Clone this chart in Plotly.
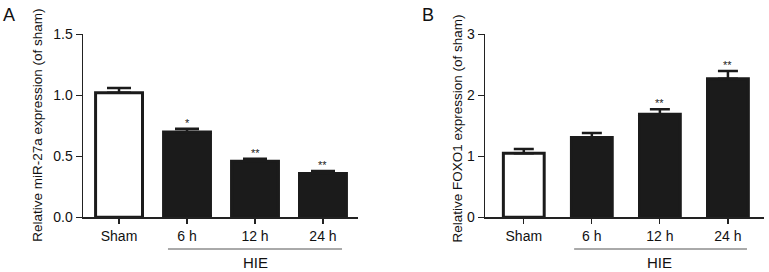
import plotly.graph_objects as go

categories = ["Sham", "6 h", "12 h", "24 h"]
mir27a_values = [1.02, 0.70, 0.46, 0.36]
mir27a_errors = [0.04, 0.025, 0.02, 0.02]
mir27a_stars = ["", "*", "**", "**"]
foxo1_values = [1.05, 1.31, 1.69, 2.27]
foxo1_errors = [0.07, 0.07, 0.08, 0.13]
foxo1_stars = ["", "", "**", "**"]
group_label = "HIE"
ytitle_a = "Relative miR-27a expression (of sham)"
ytitle_b = "Relative FOXO1 expression (of sham)"

W, H = 769, 272
FONT = "Liberation Sans, Arial, Helvetica, sans-serif"
DARK = "#1b1b1b"
TXT = "#111111"

def px_x(p):
    return p / W

def px_y(p):
    return 1 - p / H

fig = go.Figure()

fill_colors = ["white", DARK, DARK, DARK]

fig.add_trace(go.Bar(
    x=list(range(len(categories))), y=mir27a_values, width=0.69,
    marker=dict(color=fill_colors, line=dict(color=DARK, width=3)),
    error_y=dict(type="data", symmetric=False, array=mir27a_errors,
                 arrayminus=[0] * 4, color=DARK, thickness=2.5, width=12),
    xaxis="x", yaxis="y", showlegend=False, hoverinfo="skip"))

fig.add_trace(go.Bar(
    x=list(range(len(categories))), y=foxo1_values, width=0.6,
    marker=dict(color=fill_colors, line=dict(color=DARK, width=3)),
    error_y=dict(type="data", symmetric=False, array=foxo1_errors,
                 arrayminus=[0] * 4, color=DARK, thickness=2.5, width=10),
    xaxis="x2", yaxis="y2", showlegend=False, hoverinfo="skip"))

y_dom = [px_y(217.3), px_y(34.3)]
common_x = dict(
    tickmode="array", tickvals=list(range(4)), ticktext=categories,
    showline=True, linecolor="#222", linewidth=1.5,
    ticks="outside", ticklen=5, tickwidth=1.2, tickcolor="#222",
    tickfont=dict(family=FONT, size=14, color=TXT),
    showgrid=False, zeroline=False, fixedrange=True, automargin=False)
common_y = dict(
    showline=True, linecolor="#222", linewidth=1.5,
    ticks="outside", ticklen=6, tickwidth=1.2, tickcolor="#222",
    tickfont=dict(family=FONT, size=14, color=TXT),
    showgrid=False, zeroline=False, fixedrange=True, domain=y_dom, automargin=False)

fig.update_layout(
    width=W, height=H,
    margin=dict(l=0, r=0, t=0, b=0, pad=0, autoexpand=False),
    paper_bgcolor="white", plot_bgcolor="white",
    bargap=0,
    xaxis=dict(common_x, domain=[px_x(83), px_x(358)], range=[-0.53, 3.515], anchor="y"),
    yaxis=dict(common_y, range=[0, 1.5], tickvals=[0, 0.5, 1.0, 1.5],
               tickformat=".1f", anchor="x"),
    xaxis2=dict(common_x, domain=[px_x(485), px_x(764)], range=[-0.57, 3.53], anchor="y2"),
    yaxis2=dict(common_y, range=[0, 3], tickvals=[0, 1, 2, 3], anchor="x2"),
)

annotations = []
# significance stars
for i, (v, e, s) in enumerate(zip(mir27a_values, mir27a_errors, mir27a_stars)):
    if s:
        annotations.append(dict(x=i, y=v + e, xref="x", yref="y", text=s,
                                showarrow=False, yanchor="bottom", yshift=-2,
                                font=dict(family=FONT, size=11, color="#222")))
for i, (v, e, s) in enumerate(zip(foxo1_values, foxo1_errors, foxo1_stars)):
    if s:
        annotations.append(dict(x=i, y=v + e, xref="x2", yref="y2", text=s,
                                showarrow=False, yanchor="bottom", yshift=-2,
                                font=dict(family=FONT, size=11, color="#222")))

# group labels
for xr in ["x", "x2"]:
    annotations.append(dict(x=2, y=px_y(262), xref=xr, yref="paper", text=group_label,
                            showarrow=False, yanchor="middle",
                            font=dict(family=FONT, size=15, color=TXT)))

# y titles
annotations.append(dict(x=px_x(38), y=(y_dom[0] + y_dom[1]) / 2, xref="paper", yref="paper",
                        text=ytitle_a, textangle=-90, showarrow=False,
                        xanchor="center", yanchor="middle",
                        font=dict(family=FONT, size=13.5, color=TXT)))
annotations.append(dict(x=px_x(458), y=(y_dom[0] + y_dom[1]) / 2 - 0.01, xref="paper", yref="paper",
                        text=ytitle_b, textangle=-90, showarrow=False,
                        xanchor="center", yanchor="middle",
                        font=dict(family=FONT, size=13.5, color=TXT)))

# panel letters
annotations.append(dict(x=px_x(1), y=px_y(15), xref="paper", yref="paper", text="A",
                        showarrow=False, xanchor="left", yanchor="middle",
                        font=dict(family=FONT, size=18, color=TXT)))
annotations.append(dict(x=px_x(420), y=px_y(15), xref="paper", yref="paper", text="B",
                        showarrow=False, xanchor="left", yanchor="middle",
                        font=dict(family=FONT, size=18, color=TXT)))
fig.update_layout(annotations=annotations)

# HIE underline
fig.add_shape(type="line", xref="x", yref="paper", x0=0.72, x1=3.28,
              y0=px_y(249), y1=px_y(249), line=dict(color="#555", width=1))
fig.add_shape(type="line", xref="x2", yref="paper", x0=0.74, x1=3.28,
              y0=px_y(249), y1=px_y(249), line=dict(color="#555", width=1))

fig.write_html("out.html", config={"displayModeBar": False, "staticPlot": True},
               post_script="document.body.style.margin='0';document.body.style.overflow='hidden';")
